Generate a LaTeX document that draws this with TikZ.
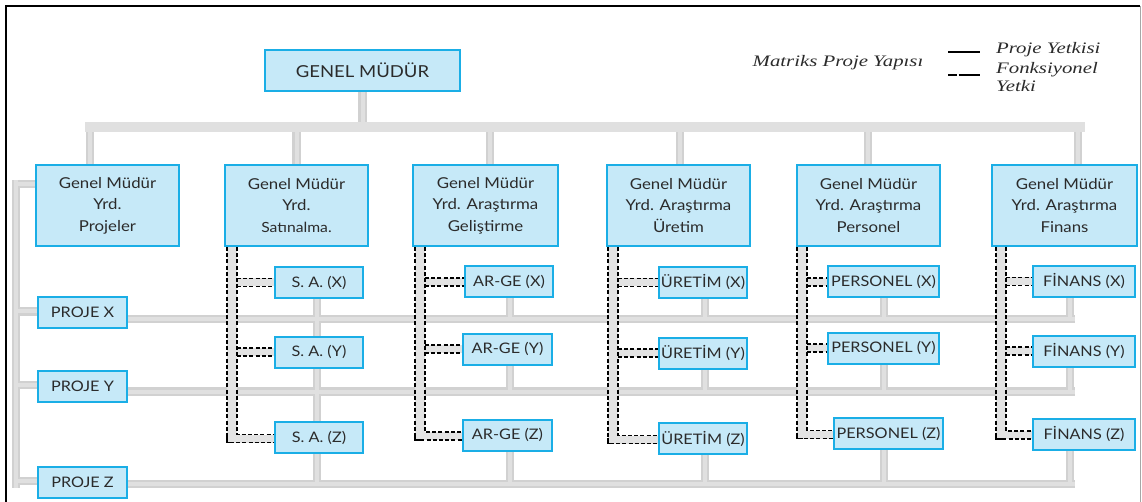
\documentclass[tikz,border=0pt]{standalone}
\usepackage{fontspec}
\setmainfont[FakeStretch=1.12]{Lato}
\newfontfamily\legendfont[FakeStretch=1.3]{Liberation Serif}
\usetikzlibrary{calc,backgrounds}
\definecolor{boxfill}{HTML}{C6E9F8}
\definecolor{boxline}{HTML}{1AAEE6}
\definecolor{txt}{HTML}{2B2B2B}
\newcommand\barpaths[1]{%
  \draw[#1, line width=10pt] (topL) -- (topR);
  \draw[#1] (gm.south) -- (gm.south |- topL);
  \foreach \s/\c in {s1/c1,s2/c2,s3/c3,s4/c4,s5/c5,s6/c6}{\draw[#1] (\s) -- (\s |- \c.north);}
  \draw[#1] (lbT) -- (lbB);
  \draw[#1] (lb1) -- (lb1 -| c1.west);
  \draw[#1] (lbx) -- (lbx -| px.west);
  \draw[#1] (lby) -- (lby -| py.west);
  \draw[#1] (lbz) -- (lbz -| pz.west);
  \draw[#1] (rxE -| px.east) -- (rxE);
  \draw[#1] (ryE -| py.east) -- (ryE);
  \draw[#1] (rzE -| pz.east) -- (rzE);
  \draw[#1] (k2 |- sax.south) -- (k2 |- rzE);
  \foreach \k/\a/\b/\c in {k3/agx/agy/agz,k4/urx/ury/urz,k5/pex/pey/pez,k6/fix/fiy/fiz}{%
    \draw[#1] (\k |- \a.south) -- (\k |- rxE);
    \draw[#1] (\k |- \b.south) -- (\k |- ryE);
    \draw[#1] (\k |- \c.south) -- (\k |- rzE);}
}
\newcommand\fpipe[5]{%
  \coordinate (po) at (#2,0);
  \coordinate (pi) at (#2+10,0);
  \coordinate (zb) at ($(#5.west)+(0,5)$);
  \coordinate (zi) at ($(#5.west)+(0,-3)$);
  \fill[pipefill] (po |- #1.south) rectangle (pi |- zb);
  \fill[pipefill] ($(pi |- #3.west)+(0,-4)$) rectangle ($(#3.west)+(0,4)$);
  \fill[pipefill] ($(pi |- #4.west)+(0,-4)$) rectangle ($(#4.west)+(0,4)$);
  \fill[pipefill] (pi |- zi) rectangle (zb);
  \draw[fdash] (po |- #1.south) -- (po |- zb) -- (zb);
  \draw[fdash] (pi |- #1.south) -- (pi |- zi) -- (zi);
  \draw[fdash] ($(pi |- #3.west)+(0,-4)$) -- ($(#3.west)+(0,-4)$);
  \draw[fdash] ($(pi |- #3.west)+(0,4)$) -- ($(#3.west)+(0,4)$);
  \draw[fdash] ($(pi |- #4.west)+(0,-4)$) -- ($(#4.west)+(0,-4)$);
  \draw[fdash] ($(pi |- #4.west)+(0,4)$) -- ($(#4.west)+(0,4)$);
  \draw[line width=1.6pt] ($(po |- zb)+(0,-6)$) -- (po |- zb) -- ++(6,0);
}
\begin{document}
\begin{tikzpicture}[x=1pt,y=-1pt,
  org/.style={draw=boxline, fill=boxfill, line width=2pt, text=txt, inner sep=0pt, align=center,
    font=\fontsize{15}{21.5}\selectfont},
  bigbox/.style={org, minimum width=143pt, minimum height=81pt},
  subbox/.style={org, minimum height=31pt, font=\fontsize{14.5}{16}\selectfont},
  barout/.style={draw=gray!36, line width=8.5pt},
  barin/.style={draw=gray!24, line width=4pt},
  pipefill/.style={fill=gray!22},
  fdash/.style={draw=black, line width=1.3pt, dash pattern=on 4pt off 2.2pt},
  legtext/.style={font=\legendfont\itshape\fontsize{16}{18.5}\selectfont, text=txt, inner sep=0pt},
  ]
\useasboundingbox (0,0) rectangle (1142,502);
% frame
\draw[line width=1.8pt] (6,502) -- (6,6) -- (1140,6);
\draw[gray!70, line width=1pt] (1140,6) -- (1140,502);

% boxes
\node[bigbox, minimum width=195pt, minimum height=41pt, font=\fontsize{16.5}{18}\selectfont] (gm) at (362.5,70.5) {GENEL MÜDÜR};
\node[bigbox] (c1) at (107.5,205.5) {Genel Müdür\\Yrd.\\Projeler};
\node[bigbox] (c2) at (296.5,205.5) {Genel Müdür\\Yrd.\\{\fontsize{14}{15}\selectfont Satınalma.}};
\node[bigbox, minimum width=145pt] (c3) at (485.5,205.5) {Genel Müdür\\Yrd. Araştırma\\Geliştirme};
\node[bigbox] (c4) at (678.5,205.5) {Genel Müdür\\Yrd. Araştırma\\Üretim};
\node[bigbox] (c5) at (868.5,205.5) {Genel Müdür\\Yrd. Araştırma\\Personel};
\node[bigbox, minimum width=145pt] (c6) at (1064.5,205.5) {Genel Müdür\\Yrd. Araştırma\\Finans};

\node[subbox, minimum width=89pt] (px) at (82.5,312.5) {PROJE X};
\node[subbox, minimum width=89pt] (py) at (82.5,386) {PROJE Y};
\node[subbox, minimum width=89pt] (pz) at (82.5,482) {PROJE Z};

\node[subbox, minimum width=88pt] (sax) at (319,282.5) {S. A. (X)};
\node[subbox, minimum width=88pt] (say) at (319,352) {S. A. (Y)};
\node[subbox, minimum width=88pt] (saz) at (319,437.5) {S. A. (Z)};
\node[subbox, minimum width=88pt] (agx) at (509,282) {AR-GE (X)};
\node[subbox, minimum width=89pt] (agy) at (507.5,349) {AR-GE (Y)};
\node[subbox, minimum width=89pt] (agz) at (507.5,435) {AR-GE (Z)};
\node[subbox, minimum width=88pt] (urx) at (703,282.5) {ÜRETİM (X)};
\node[subbox, minimum width=88pt] (ury) at (703,353) {ÜRETİM (Y)};
\node[subbox, minimum width=88pt] (urz) at (703,438.5) {ÜRETİM (Z)};
\node[subbox, minimum width=111pt] (pex) at (883.5,282) {PERSONEL (X)};
\node[subbox, minimum width=111pt] (pey) at (883.5,348) {PERSONEL (Y)};
\node[subbox, minimum width=109pt] (pez) at (888.5,433.5) {PERSONEL (Z)};
\node[subbox, minimum width=102pt] (fix) at (1084,281.5) {FİNANS (X)};
\node[subbox, minimum width=102pt] (fiy) at (1084,351) {FİNANS (Y)};
\node[subbox, minimum width=102pt] (fiz) at (1084,434) {FİNANS (Z)};

% coordinates for the bars
\coordinate (topL) at (85,127);
\coordinate (topR) at (1085,127);
\coordinate (s1) at (90,127);
\coordinate (s2) at (296.5,127);
\coordinate (s3) at (490,127);
\coordinate (s4) at (680,127);
\coordinate (s5) at (868,127);
\coordinate (s6) at (1078,127);
\coordinate (lbT) at (16,180);
\coordinate (lbB) at (16,488);
\coordinate (lb1) at (16,184);
\coordinate (lbx) at (16,311.5);
\coordinate (lby) at (16,385);
\coordinate (lbz) at (16,481);
\coordinate (rxE) at (1075,319);
\coordinate (ryE) at (1075,391.5);
\coordinate (rzE) at (1075,484);
\coordinate (k2) at (317,0);
\coordinate (k3) at (510,0);
\coordinate (k4) at (705,0);
\coordinate (k5) at (884,0);
\coordinate (k6) at (1070,0);

\begin{scope}[on background layer]
  \barpaths{barout}
  \barpaths{barin}
  \fpipe{c2}{227}{sax}{say}{saz}
  \fpipe{c3}{415}{agx}{agy}{agz}
  \fpipe{c4}{608}{urx}{ury}{urz}
  \fpipe{c5}{797}{pex}{pey}{pez}
  \fpipe{c6}{996}{fix}{fiy}{fiz}
\end{scope}

% legend
\node[legtext] (lt) at (838,63) {Matriks Proje Yapısı};
\coordinate (l1a) at (948,52);
\coordinate (l1b) at (980,52);
\coordinate (l2a) at (948,75);
\coordinate (l2b) at (980,75);
\draw[line width=1.3pt] (l1a) -- (l1b);
\draw[line width=1.3pt, dash pattern=on 9pt off 1.5pt on 30pt off 0pt] (l2a) -- (l2b);
\node[legtext, anchor=west] (l1t) at (996,50) {Proje Yetkisi};
\node[legtext, anchor=north west, align=left] (l2t) at (996,62) {Fonksiyonel\\Yetki};
\end{tikzpicture}
\end{document}
